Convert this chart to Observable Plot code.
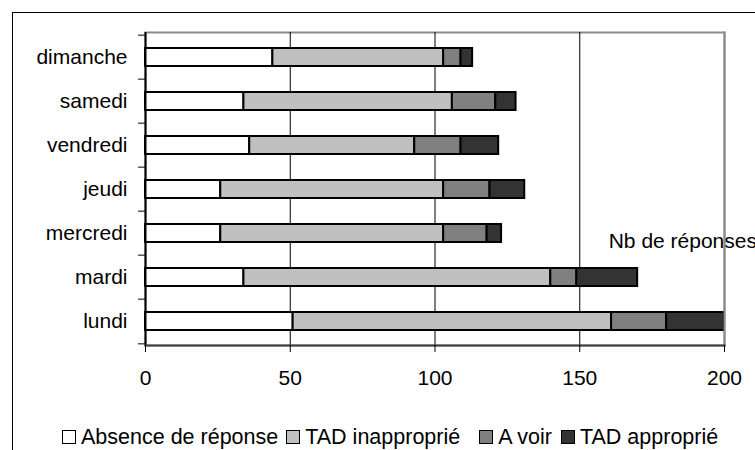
<!DOCTYPE html>
<html><head><meta charset="utf-8">
<script src="https://cdn.jsdelivr.net/npm/d3@7"></script>
<script src="https://cdn.jsdelivr.net/npm/@observablehq/plot@0.6"></script>
<style>
body{margin:0;background:#fff;font-family:"Liberation Sans",Arial,sans-serif;}
#wrap{position:relative;width:755px;height:450px;overflow:hidden;background:#fff;}
#border{position:absolute;left:12px;top:12px;width:800px;height:500px;border-left:1px solid #000;border-top:1px solid #000;}
#chart{position:absolute;left:0;top:0;}
#legend{position:absolute;left:62px;top:425px;display:flex;align-items:center;font-size:21.5px;line-height:24px;white-space:nowrap;color:#000;}
.item{display:flex;align-items:center;}
.sw{width:14px;height:14px;border:1.5px solid #000;box-sizing:border-box;margin-right:5px;}
</style></head><body>
<div id="wrap"><div id="border"></div><div id="chart"></div><div id="legend"></div></div>
<script>
const days = ["dimanche","samedi","vendredi","jeudi","mercredi","mardi","lundi"];
const series = ["Absence de réponse","TAD inapproprié","A voir","TAD approprié"];
const absence = [44,34,36,26,26,34,51];
const inapproprie = [59,72,57,77,77,106,110];
const aVoir = [6,15,16,16,15,9,19];
const approprie = [4,7,13,12,5,21,20];
const colors = ["#ffffff","#c0c0c0","#808080","#333333"];
const xTicks = [0,50,100,150,200];
const gridValues = [50,100,150];
const axisTitle = "Nb de réponses";

const values = [absence, inapproprie, aVoir, approprie];
const data = [];
days.forEach((d, i) => series.forEach((s, j) => data.push({day: d, series: s, value: values[j][i]})));

const W = 755, H = 400, mt = 32, mb = 55, ml = 145, mr = 31;
const step = (H - mt - mb) / days.length;
const font = '"Liberation Sans", Arial, sans-serif';

const chart = Plot.plot({
  width: W, height: H,
  marginTop: mt, marginBottom: mb, marginLeft: ml, marginRight: mr,
  style: {fontFamily: font, fontSize: "21px", color: "#000", background: "transparent", overflow: "visible"},
  x: {domain: [0, 200]},
  y: {domain: days, paddingInner: 0.6, paddingOuter: 0.3},
  color: {domain: series, range: colors},
  marks: [
    Plot.frame({stroke: "#8c8c8c", strokeWidth: 2}),
    Plot.ruleX(gridValues, {stroke: "#000", strokeWidth: 1}),
    Plot.barX(data, {x: "value", y: "day", fill: "series", stroke: "#000", strokeWidth: 2, order: null}),
    Plot.text([{label: axisTitle, x: 160, day: "mercredi"}], {x: "x", y: "day", text: "label", textAnchor: "start", dy: 8, fontSize: 21, fill: "#000"}),
    Plot.frame({anchor: "right", stroke: "#8c8c8c", strokeWidth: 2}),
    Plot.ruleX([0], {stroke: "#000", strokeWidth: 2}),
    Plot.frame({anchor: "bottom", stroke: "#404040", strokeWidth: 2}),
    Plot.axisX({ticks: xTicks, tickSize: 7, tickPadding: 18, tickFormat: d => String(d), label: null, fontSize: 21}),
    Plot.axisY({tickSize: 0, tickPadding: 18, label: null, fontSize: 21}),
    Plot.axisY({tickSize: 7, tickFormat: () => "", dy: -step / 2, label: null}),
    Plot.axisY({ticks: ["lundi"], tickSize: 7, tickFormat: () => "", dy: step / 2, label: null})
  ]
});
document.getElementById("chart").appendChild(chart);

const legend = document.getElementById("legend");
const gaps = [0, 8, 19, 9];
series.forEach((s, j) => {
  const it = document.createElement("div");
  it.className = "item";
  it.style.marginLeft = gaps[j] + "px";
  const sw = document.createElement("span");
  sw.className = "sw";
  sw.style.background = colors[j];
  const t = document.createElement("span");
  t.textContent = s;
  it.appendChild(sw); it.appendChild(t);
  legend.appendChild(it);
});
</script>
</body></html>
